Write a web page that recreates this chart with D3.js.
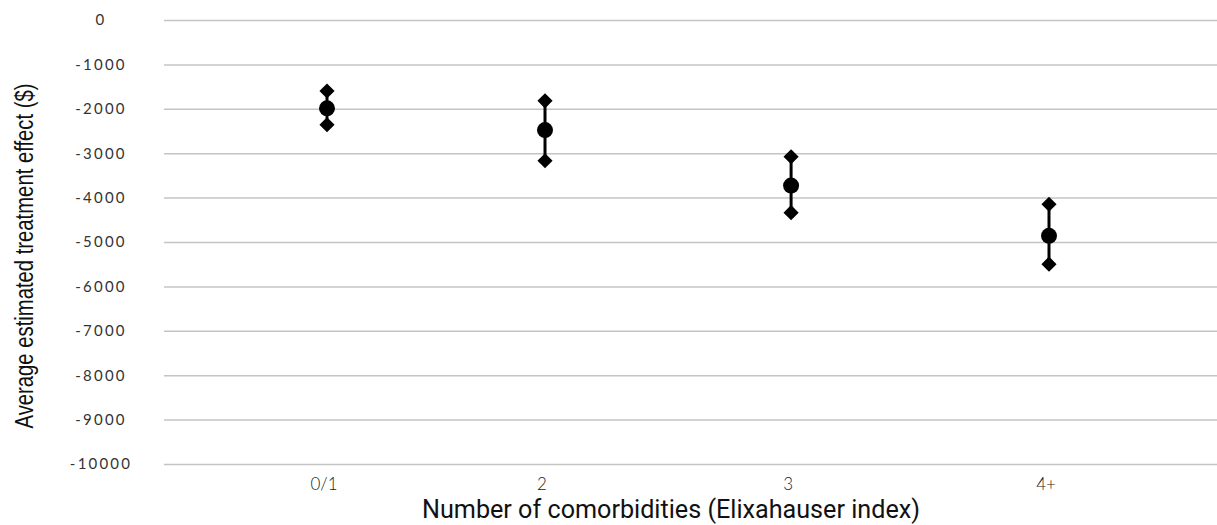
<!DOCTYPE html>
<html>
<head>
<meta charset="utf-8">
<script src="https://cdn.jsdelivr.net/npm/d3@7"></script>
<style>
  html, body { margin: 0; padding: 0; background: #fff; }
  svg { display: block; }
</style>
</head>
<body>
<svg id="chart" width="1217" height="525"></svg>
<script>
const categories = ["0/1", "2", "3", "4+"];
const meanValues  = [-1990, -2480, -3730, -4860];
const upperValues = [-1600, -1820, -3080, -4150];
const lowerValues = [-2360, -3170, -4340, -5500];
const yTicks = [0, -1000, -2000, -3000, -4000, -5000, -6000, -7000, -8000, -9000, -10000];
const xTitle = "Number of comorbidities (Elixahauser index)";
const yTitle = "Average estimated treatment effect ($)";

const svg = d3.select("#chart");
const plotLeft = 164, plotRight = 1217;

const y = d3.scaleLinear().domain([0, -10000]).range([20, 464]);
// category positions (spacing widens slightly as in the reference)
const x = d3.scalePow().exponent(1.09).domain([0, 3]).range([327, 1049]);

// gridlines
const grid = svg.append("g")
  .attr("transform", `translate(${plotLeft},0)`)
  .call(d3.axisLeft(y).tickValues(yTicks).tickSize(-(plotRight - plotLeft)).tickFormat(""));
grid.select(".domain").remove();
grid.selectAll(".tick line").attr("stroke", "#c4c4c4").attr("stroke-width", 1.5);

// y tick labels
svg.append("g").selectAll("text").data(yTicks).join("text")
  .attr("x", 101).attr("y", d => y(d))
  .attr("dy", "0.36em")
  .attr("text-anchor", "middle")
  .attr("font-family", "Lato, sans-serif")
  .attr("font-weight", 400)
  .attr("font-size", 15)
  .attr("letter-spacing", 2.2)
  .attr("fill", "#333")
  .text(d => d);

// x tick labels
svg.append("g").selectAll("text").data(categories).join("text")
  .attr("x", (d, i) => x(i) - 3).attr("y", 484)
  .attr("dy", "0.36em")
  .attr("text-anchor", "middle")
  .attr("font-family", "Lato, sans-serif")
  .attr("font-weight", 300)
  .attr("font-size", 17)
  .attr("fill", "#222")
  .text(d => d);

// error bars
const marks = svg.append("g");
marks.selectAll("line.err").data(categories).join("line")
  .attr("class", "err")
  .attr("x1", (d, i) => x(i)).attr("x2", (d, i) => x(i))
  .attr("y1", (d, i) => y(upperValues[i])).attr("y2", (d, i) => y(lowerValues[i]))
  .attr("stroke", "#000").attr("stroke-width", 3);

const diamondPath = d3.symbol().type(d3.symbolSquare).size(115)();
function drawDiamonds(vals) {
  marks.append("g").selectAll("path").data(vals).join("path")
    .attr("d", diamondPath)
    .attr("transform", (d, i) => `translate(${x(i)},${y(d)}) rotate(45)`)
    .attr("fill", "#000");
}
drawDiamonds(upperValues);
drawDiamonds(lowerValues);

marks.append("g").selectAll("circle").data(meanValues).join("circle")
  .attr("cx", (d, i) => x(i)).attr("cy", d => y(d))
  .attr("r", 8)
  .attr("fill", "#000");

// axis titles
svg.append("text")
  .attr("x", 671).attr("y", 518)
  .attr("text-anchor", "middle")
  .attr("font-family", "Roboto, sans-serif")
  .attr("font-size", 25)
  .attr("textLength", 498)
  .attr("lengthAdjust", "spacingAndGlyphs")
  .attr("fill", "#111")
  .text(xTitle);

svg.append("text")
  .attr("transform", "translate(33,256) rotate(-90)")
  .attr("text-anchor", "middle")
  .attr("font-family", "'Liberation Sans', Arial, sans-serif")
  .attr("font-size", 25)
  .attr("textLength", 345)
  .attr("lengthAdjust", "spacingAndGlyphs")
  .attr("fill", "#111")
  .text(yTitle);
</script>
</body>
</html>
